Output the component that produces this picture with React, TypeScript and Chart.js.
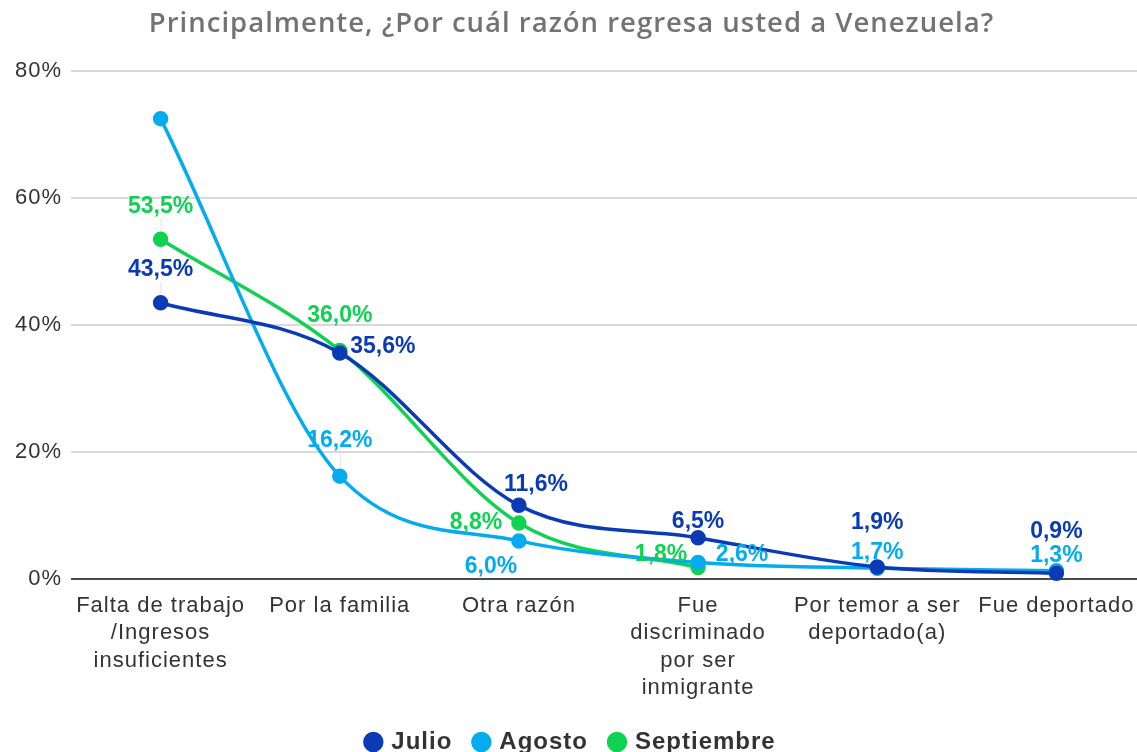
import React, { useEffect, useRef } from "react";
import { Chart, registerables } from "chart.js";

Chart.register(...registerables);

const categories: string[][] = [
  ["Falta de trabajo", "/Ingresos", "insuficientes"],
  ["Por la familia"],
  ["Otra razón"],
  ["Fue", "discriminado", "por ser", "inmigrante"],
  ["Por temor a ser", "deportado(a)"],
  ["Fue deportado"],
];

const julio: (number | null)[] = [43.5, 35.6, 11.6, 6.5, 1.9, 0.9];
const agosto: (number | null)[] = [72.5, 16.2, 6.0, 2.6, 1.7, 1.3];
const septiembre: (number | null)[] = [53.5, 36.0, 8.8, 1.8, null, null];

const yTicks = [0, 20, 40, 60, 80];

// label placement (style only): [dx, dy, leaderLine] relative to point, null = hidden
type Pos = [number, number, boolean?] | null;
const julioLabelPos: Pos[] = [[0, -33, true], [43, -6], [17, -21], [0, -16], [0, -44], [0, -42]];
const agostoLabelPos: Pos[] = [null, [0, -35, true], [-28, 26], [44, -8], [0, -16], [0, -15]];
const septLabelPos: Pos[] = [[0, -33, true], [0, -35], [-43, 0], [-37, -13], null, null];

const COL_JULIO = "#0a3bb5";
const COL_AGOSTO = "#05abef";
const COL_SEPT = "#0fd252";

const fmt = (v: number) => v.toFixed(1).replace(".", ",") + "%";

const spacingPlugin = {
  id: "spacing",
  beforeInit(chart: any) {
    chart.ctx.letterSpacing = "1px";
  },
  beforeUpdate(chart: any) {
    chart.ctx.letterSpacing = "1px";
  },
};

const dataLabelPlugin = {
  id: "dataLabels",
  beforeDatasetsDraw(chart: any) {
    const ctx = chart.ctx;
    chart.data.datasets.forEach((ds: any, di: number) => {
      const meta = chart.getDatasetMeta(di);
      meta.data.forEach((el: any, i: number) => {
        const pos = ds.labelPos?.[i];
        if (!pos || !pos[2]) return;
        ctx.save();
        ctx.strokeStyle = "#e3e3e3";
        ctx.lineWidth = 1;
        ctx.beginPath();
        ctx.moveTo(el.x + pos[0] + 0.5, el.y + pos[1] + 12);
        ctx.lineTo(el.x + pos[0] + 0.5, el.y - 4);
        ctx.stroke();
        ctx.restore();
      });
    });
  },
  afterDatasetsDraw(chart: any) {
    const ctx = chart.ctx;
    chart.data.datasets.forEach((ds: any, di: number) => {
      const meta = chart.getDatasetMeta(di);
      if (meta.hidden) return;
      meta.data.forEach((el: any, i: number) => {
        const v = ds.data[i]?.y;
        const pos = ds.labelPos?.[i];
        if (v == null || !pos) return;
        ctx.save();
        ctx.letterSpacing = "0px";
        ctx.font = "bold 23px 'Liberation Sans'";
        ctx.fillStyle = ds.borderColor;
        ctx.textAlign = "center";
        ctx.textBaseline = "middle";
        ctx.fillText(fmt(v), el.x + pos[0], el.y + pos[1]);
        ctx.restore();
      });
    });
  },
};

const toPoints = (arr: (number | null)[]) => arr.map((y, i) => ({ x: i, y }));

export default function App() {
  const ref = useRef<HTMLCanvasElement>(null);
  useEffect(() => {
    if (!ref.current) return;
    const mk = (label: string, data: (number | null)[], color: string, labelPos: Pos[]) => ({
      label,
      data: toPoints(data),
      borderColor: color,
      backgroundColor: color,
      pointBackgroundColor: color,
      pointBorderColor: color,
      borderWidth: 3.5,
      pointRadius: 6,
      pointHoverRadius: 6,
      cubicInterpolationMode: "monotone",
      spanGaps: false,
      clip: false,
      pointStyle: "circle",
      labelPos,
    });
    const chart = new Chart(ref.current, {
      type: "line",
      data: {
        datasets: [
          mk("Julio", julio, COL_JULIO, julioLabelPos),
          mk("Agosto", agosto, COL_AGOSTO, agostoLabelPos),
          mk("Septiembre", septiembre, COL_SEPT, septLabelPos),
        ] as any,
      },
      options: {
        responsive: false,
        animation: false,
        layout: { autoPadding: false, padding: { left: 6, right: 0, top: 0, bottom: 0 } },
        plugins: {
          title: {
            display: true,
            text: "Principalmente, ¿Por cuál razón regresa usted a Venezuela?",
            color: "#737373",
            font: { family: "Open Sans", size: 27.5, weight: "600" },
            padding: { top: 8, bottom: 30 },
          },
          legend: {
            position: "bottom",
            labels: {
              usePointStyle: true,
              boxWidth: 12,
              boxHeight: 12,
              padding: 23,
              color: "#333333",
              font: { family: "Liberation Sans", size: 24, weight: "bold" },
            },
          },
          tooltip: { enabled: false },
        },
        scales: {
          x: {
            type: "linear",
            min: -0.5,
            max: 5.45,
            afterBuildTicks: (scale: any) => {
              scale.ticks = categories.map((_, i) => ({ value: i }));
            },
            afterFit: (scale: any) => {
              scale.paddingLeft = 0;
              scale.paddingRight = 0;
            },
            grid: { display: false },
            border: { display: false },
            ticks: {
              autoSkip: false,
              maxRotation: 0,
              minRotation: 0,
              color: "#333333",
              padding: 5,
              font: { family: "Liberation Sans", size: 22, lineHeight: 1.25 },
              callback: (v: any) => categories[v as number] ?? "",
            },
          },
          y: {
            min: 0,
            max: 80,
            afterBuildTicks: (scale: any) => {
              scale.ticks = yTicks.map((v) => ({ value: v }));
            },
            border: { display: false },
            grid: {
              drawTicks: false,
              color: (c: any) => (c.tick && c.tick.value === 0 ? "#4a4a4a" : "#d9d9d9"),
              lineWidth: 2,
            },
            ticks: {
              color: "#333333",
              padding: 9,
              font: { family: "Liberation Sans", size: 22 },
              callback: (v: any) => v + "%",
            },
          },
        },
      } as any,
      plugins: [spacingPlugin, dataLabelPlugin],
    });
    return () => chart.destroy();
  }, []);
  return (
    <div style={{ position: "absolute", left: 0, top: 0, width: 1137, height: 752, overflow: "hidden", background: "#fff" }}>
      <canvas ref={ref} width={1137} height={764} style={{ display: "block" }} />
    </div>
  );
}
